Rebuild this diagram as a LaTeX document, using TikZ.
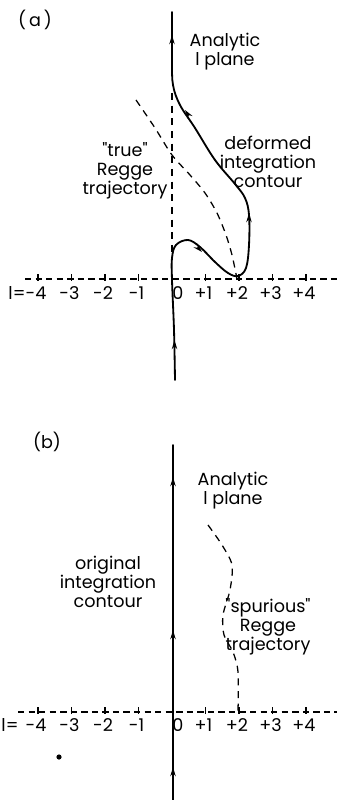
\documentclass[tikz,border=0pt]{standalone}
\usepackage{fontspec}
\setmainfont{Poppins}
\usetikzlibrary{arrows.meta}

\begin{document}
\begin{tikzpicture}[
        x=0.025cm, y=-0.025cm,
        % Style for the integration contours
        contour/.style={line width=1.3pt, line cap=round, line join=round},
        % Arrow tip placed along a contour
        tipmark/.style={contour, -{Stealth[length=6.5pt, width=3.8pt]}},
        % Style for the real l axis and its ticks
        laxis/.style={line width=0.9pt, dash pattern=on 4.5pt off 3pt},
        ltick/.style={line width=0.9pt},
        % Style for the Regge trajectories
        regge/.style={line width=0.9pt, dash pattern=on 5pt off 4pt},
        % Style for the labels
        lbl/.style={font=\fontsize{12.5}{13.5}\selectfont, inner sep=0pt, align=center}
    ]
    \useasboundingbox (0,0) rectangle (337,800);

        % --- Panel (a) ---
        \node[lbl] (taga) at (35,20) {(\,a\,)};
        \draw[laxis] (25,279) -- (337,279);
        \foreach \k/\t/\n in {-4/-4/m4, -3/-3/m3, -2/-2/m2, -1/-1/m1, 1/+1/p1, 2/+2/p2, 3/+3/p3, 4/+4/p4} {
            \draw[ltick] (172+33.5*\k,274) -- (172+33.5*\k,281);
            \node[lbl] (la\n) at (170+33.5*\k,293) {\t};
        }
        \node[lbl] (lazero) at (178,293) {0};
        \node[lbl] (laeq) at (17,293) {l=};

        \draw[regge] (172,93) -- (172,252);
        \draw[regge] plot[smooth] coordinates {(136,100) (155,128) (172,155) (190,175) (205,193) (217,213) (226,235) (232,255) (237,279)};

        \draw[contour] plot[smooth, tension=0.6] coordinates {(175,380) (174,330) (172,280) (172,258) (176,245) (188,240) (200,247) (215,262) (228,273) (238,276) (246,268) (249,245) (249,215) (245,198) (235,184) (215,160) (195,128) (180,105) (173,85) (172,60) (172,12)};
        \draw[tipmark] (174.5,346) -- (174.5,340);
        \draw[tipmark] (198,248) -- (202,252);
        \draw[tipmark] (249,219) -- (249,213);
        \draw[tipmark] (188.5,115) -- (185,110);
        \draw[tipmark] (172,41) -- (172,35);

        \node[lbl] (anaa) at (225,52) {Analytic\\l plane};
        \node[lbl] (defa) at (268,162) {deformed\\integration\\contour};
        \node[lbl] (truea) at (125,171) {\textquotedbl true\textquotedbl\\Regge\\trajectory};

        % --- Panel (b) ---
        \node[lbl] (tagb) at (47,442) {(b)};
        \draw[laxis] (18,712) -- (337,712);
        \foreach \k/\t/\n in {-4/-4/m4, -3/-3/m3, -2/-2/m2, -1/-1/m1, 1/+1/p1, 2/+2/p2, 3/+3/p3, 4/+4/p4} {
            \draw[ltick] (172+33.5*\k,707) -- (172+33.5*\k,714);
            \node[lbl] (lb\n) at (170+33.5*\k,725) {\t};
        }
        \node[lbl] (lbzero) at (178,725) {0};
        \node[lbl] (lbeq) at (10,725) {l=};

        \draw[regge] plot[smooth] coordinates {(208,525) (222,545) (232,565) (230,590) (223,615) (224,635) (233,652) (238,672) (238,712)};

        \draw[contour] (173,800) -- (173,445);
        \draw[tipmark] (173,773) -- (173,767);
        \draw[tipmark] (173,636) -- (173,630);
        \draw[tipmark] (173,483) -- (173,477);

        \fill (59,757) circle (2.6);

        \node[lbl] (anab) at (233,491) {Analytic\\l plane};
        \node[lbl] (origb) at (108,582) {original\\integration\\contour};
        \node[lbl] (spurb) at (268,627) {\textquotedbl spurious\textquotedbl\\Regge\\trajectory};

    \end{tikzpicture}
\end{document}
